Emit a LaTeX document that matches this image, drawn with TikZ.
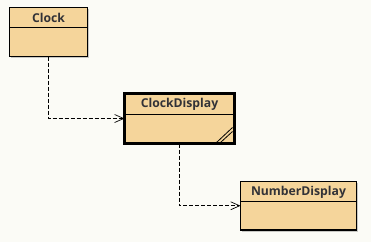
\documentclass[tikz,border=0pt]{standalone}
\usepackage{fontspec}
\setmainfont{Open Sans}
\usetikzlibrary{positioning, arrows.meta, calc, shadows}
\definecolor{cF}{RGB}{245,213,155}
\definecolor{cBg}{RGB}{251,251,246}
\definecolor{cT}{RGB}{50,50,55}

\begin{document}
\begin{tikzpicture}[x=1pt, y=-1pt,
    umlclass/.style={draw=black, fill=cF, line width=1.2pt, anchor=north west,
        inner sep=0pt, outer sep=0pt,
        drop shadow={shadow xshift=1.5pt, shadow yshift=-1.5pt, opacity=0.2, fill=black}},
    umlname/.style={font=\bfseries\fontsize{12.2}{14}\selectfont, text=cT},
    dep/.style={dash pattern=on 4pt off 2pt, line width=0.8pt,
        -{Straight Barb[length=9pt, width=8pt, line width=0.7pt]}}]
    % Background
    \fill[cBg] (0,0) rectangle (371,242);

    % Class boxes
    \node[umlclass, minimum width=78pt, minimum height=49pt] (clock) at (9.5,7.5) {};
    \node[umlclass, line width=3pt, minimum width=110pt, minimum height=50pt] (clockdisplay) at (124.5,93.5) {};
    \node[umlclass, minimum width=116pt, minimum height=48.5pt] (numberdisplay) at (240.5,181.5) {};

    % Class names
    \node[umlname] (clockname) at ([yshift=-10.5pt]clock.north) {Clock};
    \node[umlname] (clockdisplayname) at ([yshift=-11pt]clockdisplay.north) {ClockDisplay};
    \node[umlname] (numberdisplayname) at ([yshift=-10.5pt]numberdisplay.north) {NumberDisplay};

    % Compartment lines
    \draw[line width=1pt] ([yshift=-20pt]clock.north west) -- ([yshift=-20pt]clock.north east);
    \draw[line width=1pt] ([yshift=-21pt]clockdisplay.north west) -- ([yshift=-21pt]clockdisplay.north east);
    \draw[line width=1pt] ([yshift=-20pt]numberdisplay.north west) -- ([yshift=-20pt]numberdisplay.north east);

    % Composite marker
    \draw[line width=0.8pt] ([xshift=-18pt, yshift=1pt]clockdisplay.south east) -- ([xshift=-2pt, yshift=16pt]clockdisplay.south east);
    \draw[line width=0.8pt] ([xshift=-14pt, yshift=1pt]clockdisplay.south east) -- ([xshift=-2pt, yshift=12pt]clockdisplay.south east);

    % Dependencies
    \draw[dep] (clock.south) |- (clockdisplay.west);
    \draw[dep] (clockdisplay.south) |- (numberdisplay.west);
\end{tikzpicture}
\end{document}
